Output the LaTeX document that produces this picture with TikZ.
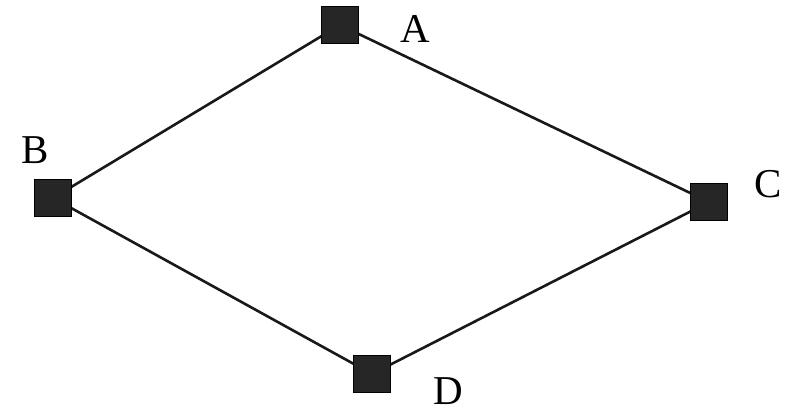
\documentclass[tikz,border=0pt]{standalone}
\usepackage{fontspec}
\setmainfont{Liberation Serif}
\begin{document}
\begin{tikzpicture}[x=1pt,y=-1pt,
  sq/.style={fill=black!85, draw=black, minimum width=37pt, minimum height=37pt, inner sep=0pt},
  lbl/.style={font=\fontsize{41}{41}\selectfont, inner sep=0pt, anchor=center},
  edge/.style={line width=2.6pt, draw=black!90}]
\useasboundingbox (0,0) rectangle (799,411);
\fill[white] (0,0) rectangle (799,411);
\coordinate (a) at (340,25);
\coordinate (b) at (53,198);
\coordinate (c) at (709,202);
\coordinate (d) at (372,374);
\draw[edge] (a) -- (b) -- (d) -- (c) -- cycle;
\node[sq] (A) at (a) {};
\node[sq] (B) at (b) {};
\node[sq] (C) at (c) {};
\node[sq] (D) at (d) {};
\node[lbl] (la) at (415,29) {A};
\node[lbl] (lb) at (35,150) {B};
\node[lbl] (lc) at (768,184) {C};
\node[lbl] (ld) at (448,391) {D};
\end{tikzpicture}
\end{document}
